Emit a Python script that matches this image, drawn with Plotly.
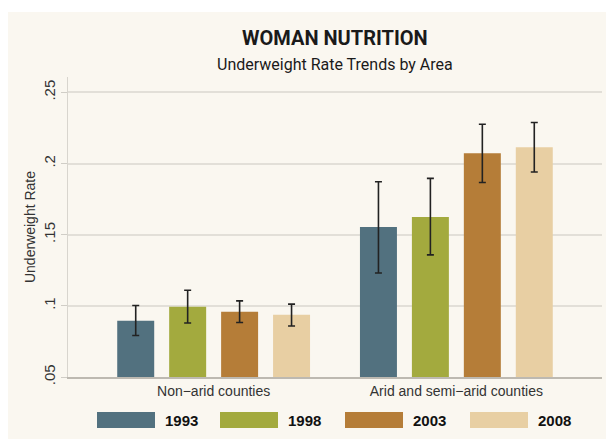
import plotly.graph_objects as go

# ---- data ----
areas = ["Non\u2212arid counties", "Arid and semi\u2212arid counties"]
years = ["1993", "1998", "2003", "2008"]
colors = ["#52717F", "#A3AA3E", "#B57D38", "#E8CFA3"]
rate_1993 = [0.0895, 0.1554]
rate_1998 = [0.0993, 0.1624]
rate_2003 = [0.0958, 0.2073]
rate_2008 = [0.0937, 0.2115]
upper_1993 = [0.1002, 0.1872]
upper_1998 = [0.1110, 0.1896]
upper_2003 = [0.1035, 0.2276]
upper_2008 = [0.1012, 0.2288]
lower_1993 = [0.0792, 0.1231]
lower_1998 = [0.0879, 0.1358]
lower_2003 = [0.0883, 0.1867]
lower_2008 = [0.0858, 0.1940]
ytick_vals = [0.05, 0.10, 0.15, 0.20, 0.25]
ytick_text = [".05", ".1", ".15", ".2", ".25"]

rates = [rate_1993, rate_1998, rate_2003, rate_2008]
uppers = [upper_1993, upper_1998, upper_2003, upper_2008]
lowers = [lower_1993, lower_1998, lower_2003, lower_2008]

BG = "#FAF7F0"
GRID = "#E2DFD8"
TXT = "#2a2a2a"
FONT = "Liberation Sans, Arial, sans-serif"

xpos = list(range(len(areas)))

fig = go.Figure()
for yr, col, r, up, lo in zip(years, colors, rates, uppers, lowers):
    fig.add_trace(go.Bar(
        x=xpos, y=r, name=yr, marker=dict(color=col, line=dict(width=0)),
        error_y=dict(type="data", symmetric=False,
                     array=[u - v for u, v in zip(up, r)],
                     arrayminus=[v - l for v, l in zip(r, lo)],
                     color="#222222", thickness=1.6, width=3.5),
        showlegend=False,
    ))

# background panel (figure pixel coords; page adds 8px body margin)
L, R, T, B = 60, 20, 69, 72
W, H = 614, 441
pw, ph = W - L - R, H - T - B
def px2x(px):
    return (px - L) / pw
def py2y(py):
    return (H - B - py) / ph

shapes = [dict(type="rect", xref="paper", yref="paper",
               x0=px2x(-2), x1=px2x(W + 5), y0=py2y(431), y1=py2y(4),
               fillcolor=BG, line=dict(width=0), layer="below")]
annotations = []

# custom legend
sw_left = [89, 212, 337, 462]
for i, (yr, col) in enumerate(zip(years, colors)):
    x0 = sw_left[i]
    shapes.append(dict(type="rect", xref="paper", yref="paper",
                       x0=px2x(x0), x1=px2x(x0 + 58), y0=py2y(420), y1=py2y(404),
                       fillcolor=col, line=dict(width=0), layer="above"))
    annotations.append(dict(xref="paper", yref="paper", x=px2x(x0 + 66), y=py2y(412),
                            text="<b>%s</b>" % yr, showarrow=False, xanchor="left",
                            yanchor="middle", font=dict(size=15, color="#111", family=FONT)))

# titles
annotations.append(dict(xref="paper", yref="paper", x=0.5, y=py2y(30), text="<b>WOMAN NUTRITION</b>",
                        showarrow=False, xanchor="center", yanchor="middle",
                        font=dict(size=20, color="#1a1a1a", family="Roboto, sans-serif")))
annotations.append(dict(xref="paper", yref="paper", x=0.5, y=py2y(56), text="Underweight Rate Trends by Area",
                        showarrow=False, xanchor="center", yanchor="middle",
                        font=dict(size=16, color="#1a1a1a", family="Roboto, sans-serif")))

fig.update_layout(
    width=W, height=H,
    margin=dict(l=L, r=R, t=T, b=B, autoexpand=False),
    paper_bgcolor="white", plot_bgcolor="rgba(0,0,0,0)",
    barmode="group", bargap=0.144, bargroupgap=0.288,
    shapes=shapes, annotations=annotations,
    font=dict(family=FONT, color=TXT),
)
fig.update_xaxes(range=[-0.6, 1.6], tickvals=xpos, ticktext=areas, automargin=False,
                 tickfont=dict(size=14, color="#333"), ticks="", showgrid=False,
                 showline=True, linecolor="#BDB9B1", linewidth=1.5, zeroline=False)
fig.update_yaxes(range=[0.05, 0.2608], tickvals=ytick_vals, ticktext=ytick_text, automargin=False,
                 tickangle=-90, tickfont=dict(size=15, color="#333"),
                 ticks="outside", ticklen=6, tickcolor="#D0CDC6", tickwidth=1,
                 showgrid=True, gridcolor=GRID, gridwidth=1.5,
                 showline=True, linecolor="#D8D5CE", linewidth=1, zeroline=False,
                 title=dict(text="Underweight Rate", font=dict(size=14, color="#333"), standoff=2))

fig.write_html("out.html")
